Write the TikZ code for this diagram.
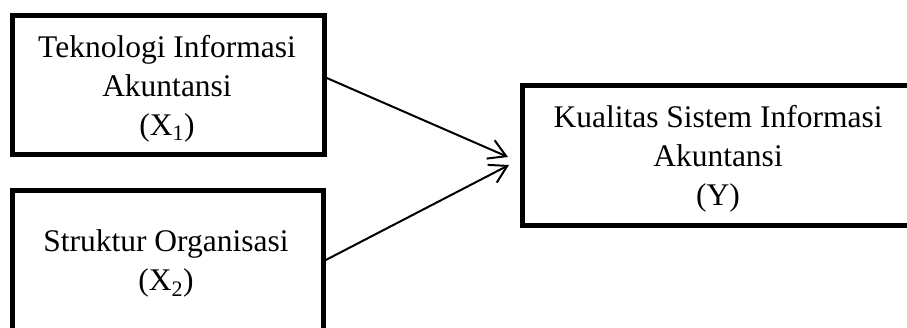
\documentclass[tikz,border=0pt]{standalone}
\usepackage{fontspec}
\setmainfont{Liberation Serif}
\usetikzlibrary{arrows.meta}

\tikzset{
  varbox/.style={draw=black, line width=4.6pt, fill=white, rectangle,
    inner sep=0pt, line join=miter},
  % base anchor sits on the baseline of the last line
  boxtext/.style={align=center, inner sep=0pt, anchor=base,
    font=\fontsize{31.5}{39}\selectfont},
  link/.style={draw=black, line width=2pt,
    -{Straight Barb[length=17pt, width=20pt, line width=2pt]}}
}

\begin{document}
\begin{tikzpicture}[x=1pt, y=-1pt]
  \useasboundingbox (0,0) rectangle (907,327);
  \clip (0,0) rectangle (907,327);

  % independent variables
  \node[varbox, minimum width=312pt, minimum height=139pt] (x1) at (168.5,85) {};
  \node[varbox, minimum width=311pt, minimum height=150pt] (x2) at (168,265.5) {};
  % dependent variable
  \node[varbox, minimum width=391pt, minimum height=140pt] (y) at (718,155.5) {};

  \node[boxtext] (tx1) at (167,135) {Teknologi Informasi\\Akuntansi\\(X\textsubscript{1})};
  \node[boxtext] (tx2) at (166,290) {Struktur Organisasi\\(X\textsubscript{2})};
  \node[boxtext] (ty) at (718,205) {Kualitas Sistem Informasi\\Akuntansi\\(Y)};

  % influence paths
  \coordinate (tip1) at (508,157);
  \coordinate (tip2) at (509,165);
  \draw[link] (x1.east |- 0,78) -- (tip1);
  \draw[link] (x2.east |- 0,260) -- (tip2);
\end{tikzpicture}
\end{document}
